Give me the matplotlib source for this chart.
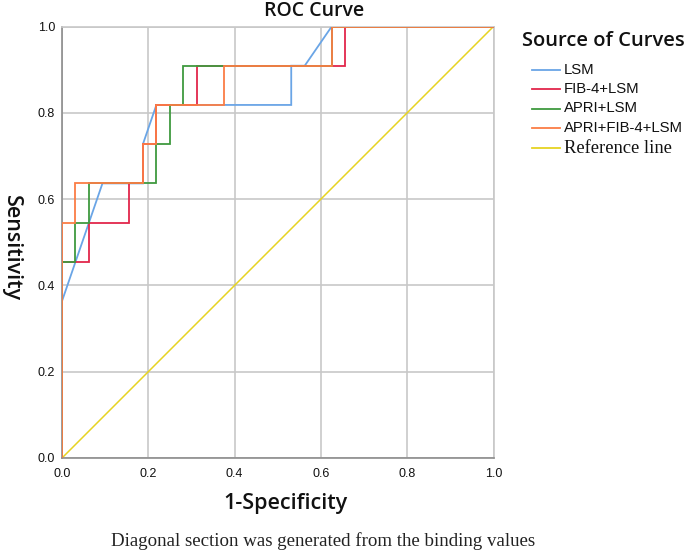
import matplotlib
matplotlib.use("Agg")
import matplotlib.pyplot as plt
from matplotlib.lines import Line2D

# ---- data (ROC vertices) ----
lsm_x = [0, 0, 0.09375, 0.1875, 0.1875, 0.21875, 0.53125, 0.53125, 0.5625, 0.625, 1.0]
lsm_y = [0, 0.3636, 0.6364, 0.6364, 0.7273, 0.8182, 0.8182, 0.9091, 0.9091, 1.0, 1.0]

fib_x = [0, 0, 0.0625, 0.0625, 0.15625, 0.15625, 0.1875, 0.1875, 0.21875, 0.21875,
         0.3125, 0.3125, 0.65625, 0.65625, 1.0]
fib_y = [0, 0.4545, 0.4545, 0.5455, 0.5455, 0.6364, 0.6364, 0.7273, 0.7273, 0.8182,
         0.8182, 0.9091, 0.9091, 1.0, 1.0]

apri_x = [0, 0, 0.03125, 0.03125, 0.0625, 0.0625, 0.21875, 0.21875, 0.25, 0.25,
          0.28125, 0.28125, 0.625, 0.625, 1.0]
apri_y = [0, 0.4545, 0.4545, 0.5455, 0.5455, 0.6364, 0.6364, 0.7273, 0.7273, 0.8182,
          0.8182, 0.9091, 0.9091, 1.0, 1.0]

all_x = [0, 0, 0.03125, 0.03125, 0.1875, 0.1875, 0.21875, 0.21875, 0.375, 0.375,
         0.625, 0.625, 1.0]
all_y = [0, 0.5455, 0.5455, 0.6364, 0.6364, 0.7273, 0.7273, 0.8182, 0.8182, 0.9091,
         0.9091, 1.0, 1.0]

ref_x = [0, 1]
ref_y = [0, 1]

series_names = ["LSM", "FIB-4+LSM", "APRI+LSM", "APRI+FIB-4+LSM", "Reference line"]
series_colors = ["#6aa5e6", "#e2264b", "#3f9a3f", "#fb7d45", "#e6d322"]
ticks = [0.0, 0.2, 0.4, 0.6, 0.8, 1.0]

# ---- figure ----
W, H = 685, 552
fig = plt.figure(figsize=(W / 100, H / 100), dpi=100)
ax = fig.add_axes([62 / W, 1 - 458 / H, (493.5 - 62) / W, (458 - 26.5) / H])

ax.plot(ref_x, ref_y, color=series_colors[4], lw=1.1, zorder=2)
for xs, ys, c in zip([lsm_x, fib_x, apri_x, all_x], [lsm_y, fib_y, apri_y, all_y],
                     series_colors[:4]):
    ax.plot(xs, ys, color=c, lw=1.3, zorder=3, solid_joinstyle="miter")

ax.set_xlim(0, 1)
ax.set_ylim(0, 1)
ax.set_xticks(ticks)
ax.set_yticks(ticks)
ax.set_xticklabels([f"{t:.1f}" for t in ticks], family="Liberation Sans", fontsize=9)
ax.set_yticklabels([f"{t:.1f}" for t in ticks], family="Liberation Sans", fontsize=9)
ax.tick_params(axis="both", length=0, colors="#111111")
ax.tick_params(axis="x", pad=7)
ax.tick_params(axis="y", pad=5)
ax.grid(True, color="#c8c8c8", lw=1.2)
ax.set_axisbelow(True)
for s in ["left", "bottom"]:
    ax.spines[s].set_color("#8c8c8c")
    ax.spines[s].set_linewidth(1.2)
for s in ["top", "right"]:
    ax.spines[s].set_color("#c8c8c8")
    ax.spines[s].set_linewidth(1.2)

# titles & labels
fig.text(314 / W, 1 - 11 / H, "ROC Curve", family="Open Sans", weight="semibold",
         fontsize=14, ha="center", va="center", color="#111111")
fig.text(11 / W, 1 - 248 / H, "Sensitivity", family="Open Sans", weight="semibold",
         fontsize=15.5, ha="center", va="center", rotation=-90, color="#111111")
fig.text(285 / W, 1 - 503 / H, "1-Specificity", family="Open Sans", weight="semibold",
         fontsize=15.5, ha="center", va="center", color="#111111")
fig.text(323 / W, 1 - 541 / H, "Diagonal section was generated from the binding values",
         family="Liberation Serif", fontsize=13.6, ha="center", va="center", color="#222222")

# legend (manual)
fig.text(522 / W, 1 - 41 / H, "Source of Curves", family="Open Sans", weight="semibold",
         fontsize=14.5, ha="left", va="center", color="#111111")
leg_y = [70, 89, 108.5, 128, 148]
for name, c, y in zip(series_names, series_colors, leg_y):
    fig.add_artist(Line2D([531.5 / W, 559.5 / W], [1 - y / H, 1 - y / H],
                          transform=fig.transFigure, color=c, lw=1.3))
    fam = "Liberation Serif" if name == "Reference line" else "Liberation Sans"
    fs = 13.3 if name == "Reference line" else 10.7
    fig.text(563.5 / W, 1 - y / H, name, family=fam, fontsize=fs,
             ha="left", va="center", color="#111111")

fig.savefig("out.png", dpi=100, facecolor="white")
